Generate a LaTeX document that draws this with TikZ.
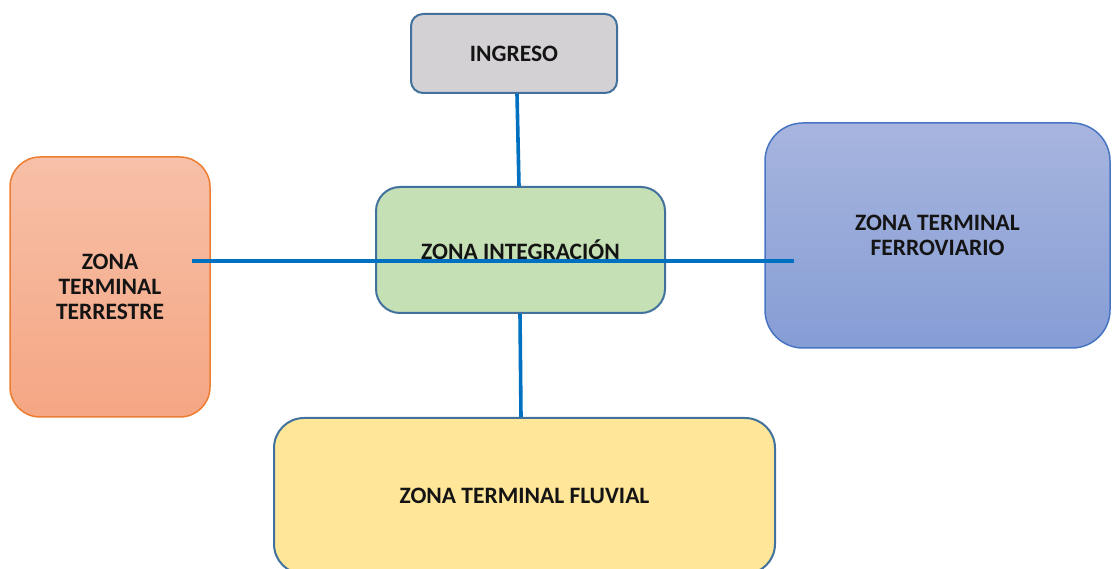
\documentclass[tikz,border=0pt]{standalone}
\usepackage{fontspec}
\setmainfont{Carlito}
\usepackage{tikz}
\usetikzlibrary{positioning,calc}
\definecolor{edgeblue}{RGB}{65,113,156}
\definecolor{linkblue}{RGB}{0,112,192}
\definecolor{greyfill}{RGB}{211,209,211}
\definecolor{greenfill}{RGB}{197,224,180}
\definecolor{yellowfill}{RGB}{255,230,153}
\definecolor{salmontop}{RGB}{247,192,168}
\definecolor{salmonbot}{RGB}{245,166,131}
\definecolor{orangeedge}{RGB}{237,125,49}
\definecolor{bluetop}{RGB}{167,181,222}
\definecolor{bluebot}{RGB}{134,157,213}
\definecolor{bluedge}{RGB}{72,116,196}
\tikzset{
  zone/.style ={draw=edgeblue, line width=2pt, align=center,
                font=\fontsize{23.5}{25}\selectfont\bfseries, text=black!92, inner sep=0pt},
  link/.style ={draw=linkblue, line width=3.6pt},
}

\begin{document}
\begin{tikzpicture}[x=1pt,y=-1pt]
\useasboundingbox (0,0) rectangle (1112,569);
% zones
\node[zone, fill=greyfill, rounded corners=12pt, minimum width=206pt, minimum height=79pt]
  (ingreso) at (514,53.5) {INGRESO};
\node[zone, fill=greenfill, rounded corners=24pt, minimum width=289pt, minimum height=126pt]
  (integ) at (520.5,250) {ZONA INTEGRACIÓN};
\node[zone, draw=orangeedge, line width=1.5pt, top color=salmontop, bottom color=salmonbot,
  rounded corners=30pt, minimum width=200pt, minimum height=260pt]
  (terrestre) at (110,287) {ZONA\\TERMINAL\\TERRESTRE};
\node[zone, draw=bluedge, line width=1.5pt, top color=bluetop, bottom color=bluebot,
  rounded corners=38pt, minimum width=345pt, minimum height=225pt]
  (ferro) at (937.5,235.5) {ZONA TERMINAL\\FERROVIARIO};
\node[zone, fill=yellowfill, rounded corners=30pt, minimum width=501pt, minimum height=156pt]
  (fluvial) at (524.5,496) {ZONA TERMINAL FLUVIAL};

% connectors
\coordinate (linkW) at ([xshift=-19pt]terrestre.east |- 0,261);
\coordinate (linkE) at ([xshift=30pt]ferro.west |- 0,261);
\draw[link] (linkW) -- (linkE);
\draw[link] ([xshift=3pt]ingreso.south) -- ([xshift=-1.5pt]integ.north);
\draw[link] ([xshift=-0.5pt]integ.south) -- ([xshift=-3.5pt]fluvial.north);
\end{tikzpicture}
\end{document}
